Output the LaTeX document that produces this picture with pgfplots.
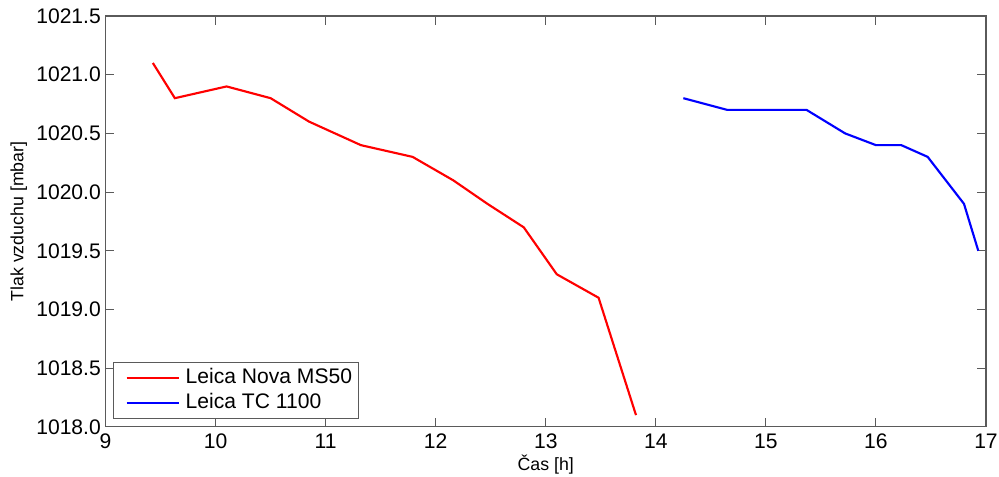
\documentclass[border=0pt]{standalone}
\usepackage{fontspec}
\setmainfont{Liberation Sans}
\usepackage{pgfplots}
\pgfplotsset{compat=1.18}

\pgfplotstableread{
x y
9.43 1021.1
9.63 1020.8
10.10 1020.9
10.50 1020.8
10.85 1020.6
11.32 1020.4
11.79 1020.3
12.16 1020.1
12.47 1019.9
12.80 1019.7
13.10 1019.3
13.48 1019.1
13.82 1018.1
}\novadata

\pgfplotstableread{
x y
14.25 1020.8
14.65 1020.7
15.37 1020.7
15.72 1020.5
16.00 1020.4
16.23 1020.4
16.47 1020.3
16.80 1019.9
16.93 1019.5
}\tcdata

\definecolor{axgray}{RGB}{90,90,90}

\begin{document}
\begin{tikzpicture}
\begin{axis}[
    scale only axis,
    width=660pt, height=308pt,
    xmin=9, xmax=17,
    ymin=1018, ymax=1021.5,
    xtick={9,...,17},
    ytick={1018,1018.5,...,1021.5},
    tick align=inside,
    major tick length=6.5pt,
    axis line style={axgray, line width=0.8pt},
    every tick/.style={axgray, line width=0.8pt},
    ticklabel style={font=\fontsize{15.8}{18}\selectfont, text=black},
    /pgf/number format/assume math mode=true,
    yticklabel style={/pgf/number format/.cd, fixed, fixed zerofill, precision=1, 1000 sep={}},
    xticklabel style={yshift=-2pt, /pgf/number format/.cd, fixed, precision=0},
    xlabel={Čas [h]},
    ylabel={Tlak vzduchu [mbar]},
    label style={font=\fontsize{13.3}{15}\selectfont},
    xlabel style={yshift=2.5pt},
    ylabel style={yshift=0pt},
    legend style={at={(0.0085,0.0195)}, anchor=south west, draw=axgray, line width=0.8pt,
        font=\fontsize{15.8}{18}\selectfont, inner xsep=5pt, inner ysep=4pt,
        row sep=3.75pt,
        nodes={inner sep=0pt, text height=11.5pt, text depth=3.5pt}},
    legend cell align=left,
    legend image code/.code={\path (0pt,0pt) (47.5pt,0pt); \draw[#1, line width=1.6pt] (4pt,0pt) -- (43pt,0pt);},
]
\addplot[red, line width=1.6pt] table[x=x, y=y] {\novadata};
\addplot[blue, line width=1.6pt] table[x=x, y=y] {\tcdata};
\legend{Leica Nova MS50, Leica TC 1100}
\end{axis}
\pgfresetboundingbox
\path[use as bounding box] ([shift={(-79.1pt,-37.5pt)}]current axis.south west) rectangle ([shift={(9.75pt,12pt)}]current axis.north east);
\end{tikzpicture}
\end{document}
